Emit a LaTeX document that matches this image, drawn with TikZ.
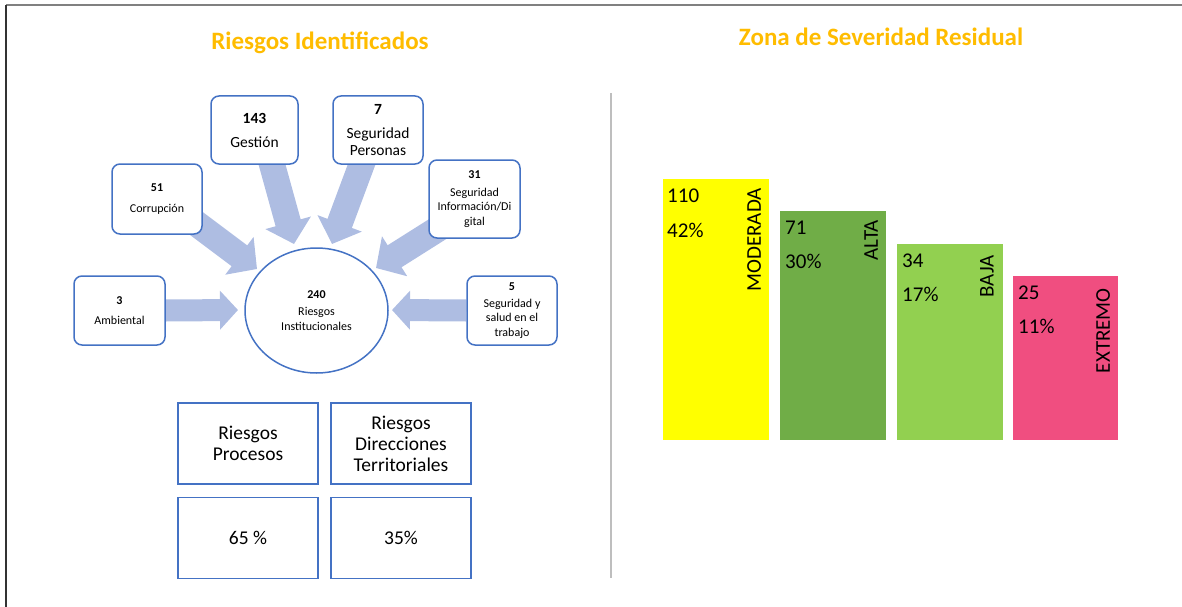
\documentclass[tikz,border=0pt]{standalone}
\usepackage{fontspec}
\setmainfont{Carlito}
\usetikzlibrary{arrows.meta}
\usetikzlibrary{shapes.geometric}
\usetikzlibrary{backgrounds}
\definecolor{boxblue}{RGB}{68,114,196}
\definecolor{arrowblue}{RGB}{174,189,226}
\definecolor{titleorange}{RGB}{255,188,0}
\definecolor{moderadayellow}{RGB}{255,255,0}
\definecolor{altagreen}{RGB}{112,173,71}
\definecolor{bajagreen}{RGB}{146,208,80}
\definecolor{extremopink}{RGB}{240,78,128}
\definecolor{sepgray}{RGB}{190,190,190}
\tikzstyle{riskbox}=[draw=boxblue, line width=1.5pt, rounded corners=8pt, fill=white, align=center, inner sep=0pt]
\tikzstyle{small risk}=[riskbox, font=\fontsize{12}{14.5}\selectfont]
\tikzstyle{big risk}=[riskbox, font=\fontsize{15.5}{17}\selectfont]
\tikzstyle{block arrow}=[draw=arrowblue, line width=22pt, -{Triangle[length=18pt 0, width=38pt 0]}]
\tikzstyle{wide block arrow}=[draw=arrowblue, line width=26pt, -{Triangle[length=22pt 0, width=46pt 0]}]
\tikzstyle{share}=[draw=boxblue, line width=1.5pt, minimum width=140pt, minimum height=81pt, align=center, inner sep=0pt, font=\fontsize{19.5}{21}\selectfont]
\tikzstyle{title}=[text=titleorange, anchor=base, font=\fontsize{25}{29}\selectfont\bfseries]
\tikzstyle{bar}=[anchor=north west, inner sep=0pt, minimum width=106pt]
\tikzstyle{bar value}=[anchor=west, inner sep=0pt, font=\fontsize{21}{24}\selectfont]
\tikzstyle{bar label}=[anchor=east, rotate=90, inner sep=0pt, font=\fontsize{21}{24}\selectfont]

\begin{document}
\begin{tikzpicture}[x=1pt, y=-1pt]
      \useasboundingbox (0, 0) rectangle (1182, 607);
      \draw[gray, line width=2pt] (6, 5) -- (1182, 5);
      \draw[black!80, line width=2pt] (6, 5) -- (6, 607);
      \draw[sepgray, line width=2pt] (611, 93) -- (611, 578);

      \node[title] (riesgos_title) at (320, 50) {Riesgos Identificados};
      \node[title] (zona_title) at (881, 46) {Zona de Severidad Residual};

      % risk sources round the centre
      \node[big risk, minimum width=87pt, minimum height=68pt] (gestion) at (254.5, 130)
        {\textbf{143}\\[7pt]Gestión};
      \node[big risk, minimum width=90pt, minimum height=68pt] (personas) at (378, 130)
        {\textbf{7}\\[7pt]Seguridad\\Personas};
      \node[small risk, minimum width=90pt, minimum height=70pt] (corrupcion) at (157, 199)
        {\textbf{51}\\[6pt]Corrupción};
      \node[small risk, minimum width=91pt, minimum height=78pt] (digital) at (474.5, 199)
        {\textbf{31}\\[3pt]Seguridad\\Información/Di\\gital};
      \node[small risk, minimum width=91pt, minimum height=69pt] (ambiental) at (119.5, 310.5)
        {\textbf{3}\\[6pt]Ambiental};
      \node[small risk, minimum width=90pt, minimum height=69pt] (salud) at (512, 310.5)
        {\textbf{5}\\[2pt]Seguridad y\\salud en el\\trabajo};
      \node[small risk, ellipse, minimum width=143pt, minimum height=125pt] (institucional) at (316.5, 310.5)
        {\textbf{240}\\[3pt]Riesgos\\Institucionales};

      \coordinate (G_start) at (268, 150);
      \coordinate (G_tip) at (294, 244);
      \coordinate (P_start) at (367, 150);
      \coordinate (P_tip) at (332, 244);
      \coordinate (C_start) at (185, 215);
      \coordinate (C_tip) at (257, 269);
      \coordinate (D_start) at (452, 220);
      \coordinate (D_tip) at (376, 268);
      \coordinate (A_tip) at (238, 310);
      \coordinate (S_tip) at (392, 310);

      \begin{scope}[on background layer]
        \draw[wide block arrow] (G_start) -- (G_tip);
        \draw[wide block arrow] (P_start) -- (P_tip);
        \draw[wide block arrow] (C_start) -- (C_tip);
        \draw[wide block arrow] (D_start) -- (D_tip);
        \draw[block arrow] (ambiental.east) -- (A_tip);
        \draw[block arrow] (salud.west) -- (S_tip);
      \end{scope}

      \node[share] (procesos) at (248, 443.5) {Riesgos\\Procesos};
      \node[share] (direcciones) at (401, 443.5) {Riesgos\\Direcciones\\Territoriales};
      \node[share] (pct_procesos) at (248, 538) {65 \%};
      \node[share] (pct_direcciones) at (401, 538) {35\%};

      % residual severity bars
      \node[bar, fill=moderadayellow, minimum height=261pt] (moderada) at (663, 179) {};
      \node[bar, fill=altagreen, minimum height=229pt] (alta) at (780, 211) {};
      \node[bar, fill=bajagreen, minimum height=196pt] (baja) at (897, 244) {};
      \node[bar, fill=extremopink, minimum height=164pt, minimum width=105pt] (extremo) at (1013, 276) {};

      \node[bar value] (moderada_n) at (667, 196) {110};
      \node[bar value] (moderada_p) at (667, 230) {42\%};
      \node[bar value] (alta_n) at (785, 228) {71};
      \node[bar value] (alta_p) at (785, 261) {30\%};
      \node[bar value] (baja_n) at (902, 261) {34};
      \node[bar value] (baja_p) at (902, 294) {17\%};
      \node[bar value] (extremo_n) at (1018, 293) {25};
      \node[bar value] (extremo_p) at (1018, 326) {11\%};

      \node[bar label] (moderada_l) at (754, 188) {MODERADA};
      \node[bar label] (alta_l) at (871, 220) {ALTA};
      \node[bar label] (baja_l) at (987, 255) {BAJA};
      \node[bar label] (extremo_l) at (1103, 288) {EXTREMO};
    \end{tikzpicture}
\end{document}
